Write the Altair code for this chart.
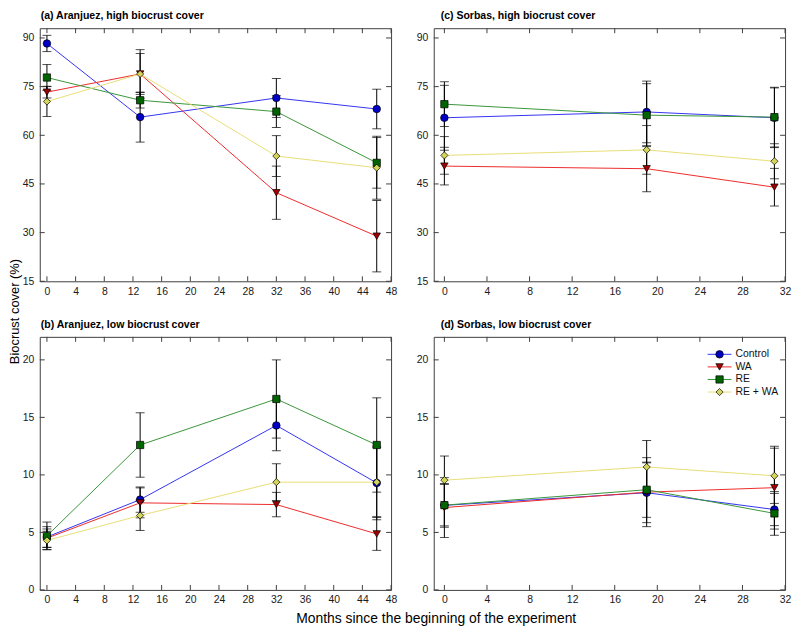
import altair as alt
import pandas as pd

SERIES = ["Control", "WA", "RE", "RE + WA"]
LINE_COLORS = ["#3434F2", "#EE2B2B", "#3A963A", "#E8DE78"]
FILL_COLORS = ["#0000C4", "#A00000", "#006400", "#D4D45A"]
SHAPES = ["circle", "triangle-down", "square", "diamond"]
SIZES = [58, 52, 44, 72]

# (a) Aranjuez, high biocrust cover
MONTHS_A = [0, 13, 32, 46]
A_MEAN = {
    "Control": [88.3, 65.6, 71.5, 68.1],
    "WA": [73.3, 78.9, 42.3, 28.9],
    "RE": [77.8, 70.8, 67.3, 51.5],
    "RE + WA": [70.4, 78.9, 53.6, 50.0],
}
A_ERR = {
    "Control": [2.5, 7.7, 6.0, 6.1],
    "WA": [1.8, 7.5, 8.2, 11.0],
    "RE": [4.0, 2.4, 4.9, 7.8],
    "RE + WA": [4.6, 6.3, 6.3, 9.7],
}

# (b) Aranjuez, low biocrust cover
MONTHS_B = [0, 13, 32, 46]
B_MEAN = {
    "Control": [4.6, 7.85, 14.3, 9.3],
    "WA": [4.5, 7.57, 7.42, 4.87],
    "RE": [4.7, 12.6, 16.6, 12.6],
    "RE + WA": [4.3, 6.47, 9.37, 9.37],
}
B_ERR = {
    "Control": [0.9, 1.1, 2.2, 3.2],
    "WA": [0.8, 1.3, 1.06, 1.43],
    "RE": [1.2, 2.8, 3.4, 4.1],
    "RE + WA": [0.8, 1.3, 1.6, 3.0],
}

# (c) Sorbas, high biocrust cover
MONTHS_C = [0, 19, 31]
C_MEAN = {
    "Control": [65.4, 67.2, 65.4],
    "WA": [50.5, 49.7, 44.0],
    "RE": [69.6, 66.2, 65.6],
    "RE + WA": [53.8, 55.5, 52.0],
}
C_ERR = {
    "Control": [10.0, 9.5, 9.2],
    "WA": [5.8, 7.1, 5.8],
    "RE": [6.9, 9.7, 9.2],
    "RE + WA": [5.8, 7.5, 5.4],
}

# (d) Sorbas, low biocrust cover
MONTHS_D = [0, 19, 31]
D_MEAN = {
    "Control": [7.35, 8.45, 6.99],
    "WA": [7.16, 8.5, 8.89],
    "RE": [7.37, 8.71, 6.65],
    "RE + WA": [9.54, 10.69, 9.92],
}
D_ERR = {
    "Control": [1.9, 2.6, 1.4],
    "WA": [2.6, 3.0, 3.6],
    "RE": [1.8, 2.4, 1.9],
    "RE + WA": [2.1, 2.3, 2.4],
}

XTICKS_ARANJUEZ = list(range(0, 49, 4))
XTICKS_SORBAS = list(range(0, 33, 4))
YTICKS_HIGH = [15, 30, 45, 60, 75, 90]
YTICKS_LOW = [0, 5, 10, 15, 20]

FONT = "Liberation Sans"
BORDER = "#404040"
W, H = 354, 255


def build_df(months, means, errs):
    rows = []
    for s in SERIES:
        for t, m, e in zip(months, means[s], errs[s]):
            rows.append({"t": t, "series": s, "mean": m, "lo": m - e, "hi": m + e})
    return pd.DataFrame(rows)


stroke_scale = alt.Scale(domain=SERIES, range=LINE_COLORS)
fill_scale = alt.Scale(domain=SERIES, range=FILL_COLORS)
shape_scale = alt.Scale(domain=SERIES, range=SHAPES)
size_scale = alt.Scale(domain=SERIES, range=SIZES)


def panel(months, means, errs, xdom, xticks, ydom, yticks, title, dx,
          ytitle=False, xtitle=False, legend=False):
    df = build_df(months, means, errs)
    xs = alt.Scale(domain=xdom, nice=False, zero=False)
    ys = alt.Scale(domain=ydom, nice=False, zero=False)
    xax_kw = dict(values=xticks, ticks=False, domain=False, grid=False,
                  labelPadding=5, labelFlush=False, labelOverlap=False)
    if xtitle:
        xax = alt.Axis(title="Months since the beginning of the experiment",
                       titleX=399, titleY=33, titleBaseline="alphabetic",
                       titleFontSize=14, titleFontWeight="normal", **xax_kw)
    else:
        xax = alt.Axis(title=None, **xax_kw)
    yax_kw = dict(values=yticks, ticks=False, domain=False, grid=False,
                  labelPadding=6, labelFlush=False, labelOverlap=False)
    if ytitle:
        yax = alt.Axis(title="Biocrust cover (%)", titleX=-25, titleY=285,
                       titleAngle=270, titleBaseline="middle", titleAlign="center",
                       titleFontSize=13, titleFontWeight="normal", **yax_kw)
    else:
        yax = alt.Axis(title=None, **yax_kw)

    X = alt.X("t:Q", scale=xs, axis=xax)
    Y = alt.Y("mean:Q", scale=ys, axis=yax)

    base = alt.Chart(df)
    err = base.mark_rule(color="black", strokeWidth=1).encode(
        x=X, y=alt.Y("lo:Q", scale=ys, axis=yax), y2="hi:Q")
    cap_lo = base.mark_tick(orient="horizontal", size=9, thickness=1, color="black").encode(
        x=X, y=alt.Y("lo:Q", scale=ys, axis=yax))
    cap_hi = base.mark_tick(orient="horizontal", size=9, thickness=1, color="black").encode(
        x=X, y=alt.Y("hi:Q", scale=ys, axis=yax))
    lines = base.mark_line(strokeWidth=1).encode(
        x=X, y=Y, stroke=alt.Stroke("series:N", scale=stroke_scale, legend=None))
    points = base.mark_point(filled=True, stroke="black", strokeWidth=0.7, opacity=1).encode(
        x=X, y=Y,
        fill=alt.Fill("series:N", scale=fill_scale, legend=None),
        shape=alt.Shape("series:N", scale=shape_scale, legend=None),
        size=alt.Size("series:N", scale=size_scale, legend=None))

    xt = alt.Chart(pd.DataFrame({"t": xticks}))
    yt = alt.Chart(pd.DataFrame({"mean": yticks}))
    tick_b = xt.mark_rule(color=BORDER, strokeWidth=1).encode(x=X, y=alt.value(H), y2=alt.value(H - 5))
    tick_t = xt.mark_rule(color=BORDER, strokeWidth=1).encode(x=X, y=alt.value(0), y2=alt.value(5))
    tick_l = yt.mark_rule(color=BORDER, strokeWidth=1).encode(y=Y, x=alt.value(0), x2=alt.value(5))
    tick_r = yt.mark_rule(color=BORDER, strokeWidth=1).encode(y=Y, x=alt.value(W), x2=alt.value(W - 5))

    data_layer = alt.layer(err, cap_lo, cap_hi, lines, points, tick_b, tick_t, tick_l, tick_r)

    if legend:
        leg = alt.Chart(pd.DataFrame({"series": SERIES}))
        LY = alt.Y("series:N", scale=alt.Scale(type="point", domain=SERIES,
                                               range=[17.6, 55.6], padding=0), axis=None)
        l_rule = leg.mark_rule(strokeWidth=1).encode(
            x=alt.value(276), x2=alt.value(300), y=LY,
            stroke=alt.Stroke("series:N", scale=stroke_scale, legend=None))
        l_pt = leg.mark_point(filled=True, stroke="black", strokeWidth=0.7, opacity=1).encode(
            x=alt.value(288), y=LY,
            fill=alt.Fill("series:N", scale=fill_scale, legend=None),
            shape=alt.Shape("series:N", scale=shape_scale, legend=None),
            size=alt.Size("series:N", scale=size_scale, legend=None))
        l_txt = leg.mark_text(align="left", baseline="middle", fontSize=10.5, font=FONT,
                              color="#111").encode(x=alt.value(304), y=LY, text="series:N")
        layer = alt.layer(data_layer, alt.layer(l_rule, l_pt, l_txt)).resolve_scale(y="independent")
    else:
        layer = data_layer

    return layer.properties(
        width=W, height=H,
        title=alt.TitleParams(text=title, anchor="start", frame="group", fontSize=10.6,
                              fontWeight="bold", font=FONT, color="black", offset=6, dx=dx),
    )


pa = panel(MONTHS_A, A_MEAN, A_ERR, [-1, 48], XTICKS_ARANJUEZ, [15, 93], YTICKS_HIGH,
           "(a) Aranjuez, high biocrust cover", 1, ytitle=True)
pc = panel(MONTHS_C, C_MEAN, C_ERR, [-1, 32], XTICKS_SORBAS, [15, 93], YTICKS_HIGH,
           "(c) Sorbas, high biocrust cover", 7)
pb = panel(MONTHS_B, B_MEAN, B_ERR, [-1, 48], XTICKS_ARANJUEZ, [0, 22], YTICKS_LOW,
           "(b) Aranjuez, low biocrust cover", 1, xtitle=True)
pd_ = panel(MONTHS_D, D_MEAN, D_ERR, [-1, 32], XTICKS_SORBAS, [0, 22], YTICKS_LOW,
            "(d) Sorbas, low biocrust cover", 7, legend=True)

chart = alt.concat(pa, pc, pb, pd_, columns=2,
                   spacing=alt.RowColnumber(row=56, column=43), bounds="flush").properties(
    padding={"left": 0, "top": 0, "right": 0, "bottom": 0}
).configure_view(stroke=BORDER, strokeWidth=1).configure_axis(
    labelFont=FONT, labelFontSize=10.5, labelColor="#1a1a1a",
    titleFont=FONT, titleColor="black"
)

chart.save("out.html", embed_options={"renderer": "svg", "actions": False})
